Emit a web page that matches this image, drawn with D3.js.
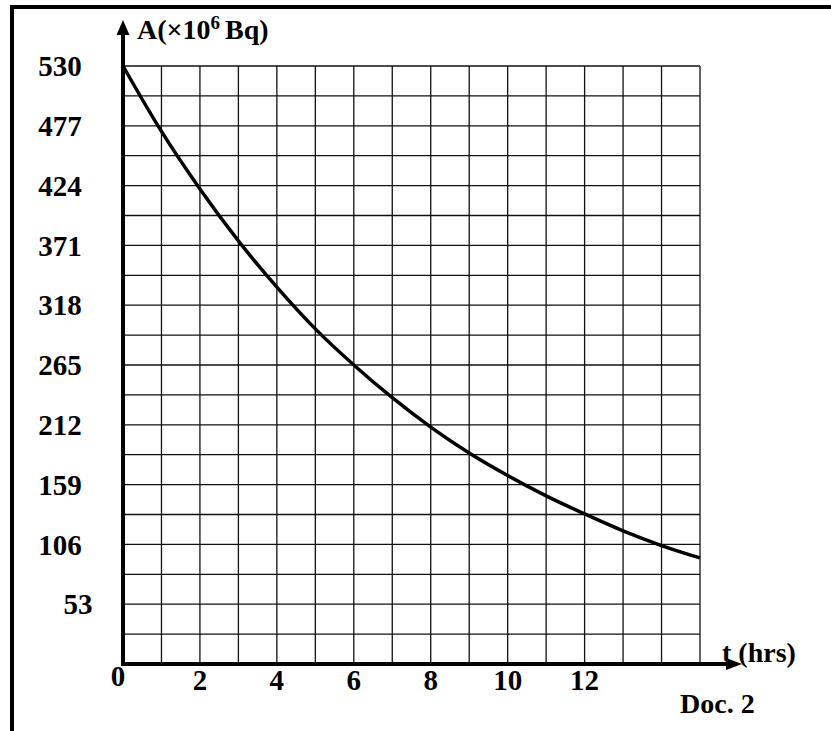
<!DOCTYPE html>
<html>
<head>
<meta charset="utf-8">
<script src="https://cdn.jsdelivr.net/npm/d3@7"></script>
<style>
	html, body { margin: 0; padding: 0; background: #fff; }
	svg { display: block; }
	text { font-family: "Liberation Serif", "Times New Roman", serif; font-weight: bold; fill: #000; }
</style>
</head>
<body>
<div id="chart"></div>
<script>
// activity, one value per hour
const hours = [0, 1, 2, 3, 4, 5, 6, 7, 8, 9, 10, 11, 12, 13, 14, 15]
const activity = [530, 472, 421, 375, 334, 297, 265, 236, 210, 187, 167, 149, 133, 118, 105, 94]

const yTicks = [53, 106, 159, 212, 265, 318, 371, 424, 477, 530]
const xTicks = [0, 2, 4, 6, 8, 10, 12]

const width = 831
const height = 731

const x = d3.scaleLinear().domain([0, 15]).range([123, 700])
const y = d3.scaleLinear().domain([0, 530]).range([664, 66])

const svg = d3.select("#chart")
	.append("svg")
	.attr("width", width)
	.attr("height", height)

// outer frame (top and left only)
svg.append("path")
	.attr("d", "M12,731 V7 H831")
	.attr("fill", "none")
	.attr("stroke", "#000")
	.attr("stroke-width", 4)

// grid
const grid = svg.append("g").attr("class", "grid")

grid.selectAll("line.v")
	.data(d3.range(1, 16))
	.enter()
	.append("line")
	.attr("class", "v")
	.attr("x1", d => x(d))
	.attr("x2", d => x(d))
	.attr("y1", y(530))
	.attr("y2", y(0))
	.attr("stroke", "#111")
	.attr("stroke-width", 1.3)

grid.selectAll("line.h")
	.data(d3.range(1, 21).map(k => k * 26.5))
	.enter()
	.append("line")
	.attr("class", "h")
	.attr("x1", x(0))
	.attr("x2", x(15))
	.attr("y1", d => y(d))
	.attr("y2", d => y(d))
	.attr("stroke", "#111")
	.attr("stroke-width", 1.3)

// axes with arrows
svg.append("line")
	.attr("x1", x(0)).attr("x2", 730)
	.attr("y1", y(0)).attr("y2", y(0))
	.attr("stroke", "#000")
	.attr("stroke-width", 4)

svg.append("path")
	.attr("d", `M742,${y(0)} L726,${y(0) - 6} L726,${y(0) + 6} Z`)
	.attr("fill", "#000")

svg.append("line")
	.attr("x1", x(0)).attr("x2", x(0))
	.attr("y1", y(0) + 2).attr("y2", 32)
	.attr("stroke", "#000")
	.attr("stroke-width", 4)

svg.append("path")
	.attr("d", `M${x(0)},20 L${x(0) - 6.5},35 L${x(0) + 6.5},35 Z`)
	.attr("fill", "#000")

// decay curve
const line = d3.line()
	.x((d, i) => x(hours[i]))
	.y(d => y(d))
	.curve(d3.curveMonotoneX)

svg.append("path")
	.datum(activity)
	.attr("d", line)
	.attr("fill", "none")
	.attr("stroke", "#000")
	.attr("stroke-width", 3.5)

// y labels
svg.append("g")
	.selectAll("text")
	.data(yTicks)
	.enter()
	.append("text")
	.attr("x", d => d === 53 ? 78 : 60)
	.attr("y", d => y(d))
	.attr("dy", "0.35em")
	.attr("text-anchor", "middle")
	.style("font-size", "29px")
	.text(d => d)

// x labels
svg.append("g")
	.selectAll("text")
	.data(xTicks)
	.enter()
	.append("text")
	.attr("x", d => d === 0 ? x(d) - 5 : x(d))
	.attr("y", d => d === 0 ? 686 : 690)
	.attr("text-anchor", "middle")
	.style("font-size", "29px")
	.text(d => d)

// axis titles
const yTitle = svg.append("text")
	.attr("x", 137)
	.attr("y", 39)
	.style("font-size", "28px")
yTitle.append("tspan").text("A(×10")
yTitle.append("tspan").attr("dy", -10).style("font-size", "19px").text("6")
yTitle.append("tspan").attr("dy", 10).attr("dx", 5).text("Bq)")

svg.append("text")
	.attr("x", 722)
	.attr("y", 662)
	.style("font-size", "28px")
	.text("t (hrs)")

svg.append("text")
	.attr("x", 680)
	.attr("y", 713)
	.style("font-size", "28px")
	.text("Doc. 2")
</script>
</body>
</html>
